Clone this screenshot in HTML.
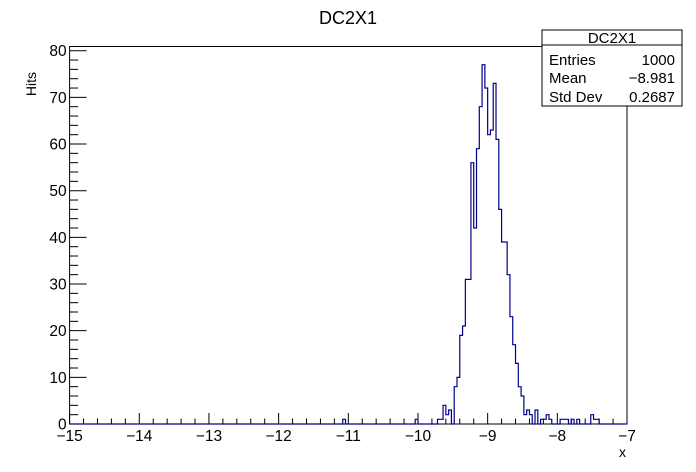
<!DOCTYPE html>
<html><head><meta charset="utf-8"><style>
html,body{margin:0;padding:0;background:#fff;}
svg{display:block;font-family:"Liberation Sans",sans-serif;}
</style></head><body>
<svg id="c" width="696" height="472" viewBox="0 0 696 472">
<rect x="0" y="0" width="696" height="472" fill="#fff"/>
<text x="348" y="24" style="font-size:18px" text-anchor="middle">DC2X1</text>
<rect x="69.6" y="46.5" width="557.4" height="377.5" fill="none" stroke="#000" stroke-width="1"/>
<g id="ticks"></g>
<path id="hist" fill="none" stroke="#00008b" stroke-width="1.2"/>
<text x="626" y="457" style="font-size:14px" text-anchor="end">x</text>
<text transform="translate(36,72) rotate(-90)" style="font-size:14px" text-anchor="end">Hits</text>
<g>
<rect x="542" y="30" width="140" height="76" fill="#fff" stroke="#000" stroke-width="1"/>
<line x1="542" y1="45" x2="682" y2="45" stroke="#000"/>
<text x="612" y="43" style="font-size:15px" text-anchor="middle">DC2X1</text>
<text x="549" y="65" style="font-size:15px">Entries</text>
<text x="675" y="65" style="font-size:15px" text-anchor="end">1000</text>
<text x="549" y="83" style="font-size:15px">Mean</text>
<text x="675" y="83" style="font-size:15px" text-anchor="end">−8.981</text>
<text x="549" y="102" style="font-size:15px">Std Dev</text>
<text x="675" y="102" style="font-size:15px" text-anchor="end">0.2687</text>
</g>
</svg>
<script>
const xMin=-15, xMax=-7, nBins=200;
const yTicks=[0,10,20,30,40,50,60,70,80];
const xTicks=[-15,-14,-13,-12,-11,-10,-9,-8,-7];
const binIdx=[98,124,132,133,134,135,136,137,138,139,140,141,142,143,144,145,146,147,148,149,150,151,152,153,154,155,156,157,158,159,160,161,162,163,164,165,166,167,168,169,170,171,172,176,177,178,180,182,187,188,189];
const binVal=[1,1,1,1,4,2,3,0,8,10,19,21,31,31,56,42,59,68,77,72,62,63,73,61,46,39,39,32,23,17,13,8,6,2,3,2,0,3,0,1,1,2,1,1,1,1,1,1,2,1,1];
const X0=69.6,X1=627,Y0=424,Y80=50.7;
const sx=v=>X0+(v-xMin)/(xMax-xMin)*(X1-X0);
const sy=v=>Y0-(v/80)*(Y0-Y80);
const NS='http://www.w3.org/2000/svg';
const counts=new Array(nBins).fill(0);
binIdx.forEach((b,i)=>counts[b]=binVal[i]);
const bw=(xMax-xMin)/nBins;
let d='M'+sx(xMin)+','+sy(0);
for(let i=0;i<nBins;i++){const a=xMin+i*bw;d+=' L'+sx(a)+','+sy(counts[i])+' L'+sx(a+bw)+','+sy(counts[i]);}
d+=' L'+sx(xMax)+','+sy(0);
document.getElementById('hist').setAttribute('d',d);
const g=document.getElementById('ticks');
function line(x1,y1,x2,y2,n){const l=document.createElementNS(NS,'line');l.setAttribute('x1',x1);l.setAttribute('y1',y1);l.setAttribute('x2',x2);l.setAttribute('y2',y2);l.setAttribute('stroke','#000');


g.appendChild(l);}
function text(x,y,s,anchor,n){const t=document.createElementNS(NS,'text');t.setAttribute('x',x);t.setAttribute('y',y);t.setAttribute('style','font-size:15.5px');t.setAttribute('text-anchor',anchor);t.textContent=s;


g.appendChild(t);}
for(let v=xMin;v<=xMax+1e-9;v+=0.2){const major=Math.abs(v-Math.round(v))<1e-6;line(sx(v),Y0,sx(v),Y0-(major?11:5.5),major?'x-major-tick':'x-minor-tick');}
xTicks.forEach(v=>text(sx(v),441,(v<0?'−':'')+Math.abs(v),'middle','x-tick-label'));
for(let v=0;v<=80;v+=2){const major=v%10===0;line(X0,sy(v),X0+(major?17:8.5),sy(v),major?'y-major-tick':'y-minor-tick');}
yTicks.forEach(v=>text(X0-3,sy(v)+5.5,String(v),'end','y-tick-label'));
</script>
</body></html>
